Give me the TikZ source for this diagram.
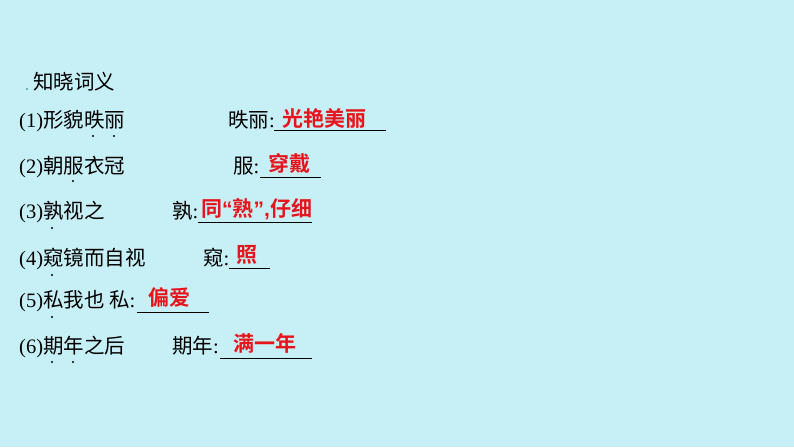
\documentclass[tikz,border=0pt]{standalone}
\usepackage{fontspec}
\setmainfont{Liberation Serif}
\newfontfamily\cjk{Noto Sans CJK SC}
\newfontfamily\cjkb{Noto Sans CJK SC Bold}
\newfontfamily\latb{Liberation Sans Bold}
\definecolor{bgc}{HTML}{C6EFF6}
\definecolor{ans}{HTML}{E8141C}
\begin{document}
\begin{tikzpicture}[x=1pt,y=-1pt,
  txt/.style={anchor=base west,inner sep=0pt,font=\fontsize{20.5}{20.5}\selectfont},
  ansr/.style={anchor=base west,inner sep=0pt,text=ans,font=\fontsize{21}{21}\selectfont\cjkb},
  uline/.style={line width=0.6pt},
  emdot/.style={circle,fill=black,inner sep=0pt,minimum size=2.4pt}]
\fill[bgc] (0,0) rectangle (794,447);
\useasboundingbox (0,0) rectangle (794,447);
\node[emdot,minimum size=1.8pt,fill=teal] (d0) at (27,89) {};
\node[txt] (t0) at (33,89) {\cjk 知晓词义};
% row1
\node[txt] (r1) at (19,127) {(1)\cjk 形貌昳丽};
\node[txt] (l1) at (228,127) {{\cjk 昳丽}:};
\coordinate (u1a) at (274,130); \coordinate (u1b) at (386,130);
\draw[uline] (u1a) -- (u1b);
\node[ansr] (a1) at (282,126) {光艳美丽};
\node[emdot] (d1a) at (93,136) {}; \node[emdot] (d1b) at (114,136) {};
% row2
\node[txt] (r2) at (19,173) {(2)\cjk 朝服衣冠};
\node[txt] (l2) at (233,173) {{\cjk 服}:};
\coordinate (u2a) at (260,177); \coordinate (u2b) at (321,177);
\draw[uline] (u2a) -- (u2b);
\node[ansr] (a2) at (268,171) {穿戴};
\node[emdot] (d2) at (73,181) {};
% row3
\node[txt] (r3) at (19,218) {(3)\cjk 孰视之};
\node[txt] (l3) at (172,218) {{\cjk 孰}:};
\coordinate (u3a) at (198,222); \coordinate (u3b) at (312,222);
\draw[uline] (u3a) -- (u3b);
\node[ansr] (a3) at (201,216) {同{\latb “}熟{\latb ”,}仔细};
\node[emdot] (d3) at (52,228) {};
% row4
\node[txt] (r4) at (19,265) {(4)\cjk 窥镜而自视};
\node[txt] (l4) at (203,265) {{\cjk 窥}:};
\coordinate (u4a) at (229,268); \coordinate (u4b) at (270,268);
\draw[uline] (u4a) -- (u4b);
\node[ansr] (a4) at (236,262) {照};
\node[emdot] (d4) at (52,275) {};
% row5
\node[txt] (r5) at (19,307) {(5){\cjk 私我也 私}:};
\coordinate (u5a) at (137,312); \coordinate (u5b) at (209,312);
\draw[uline] (u5a) -- (u5b);
\node[ansr] (a5) at (148,305) {偏爱};
\node[emdot] (d5) at (52,317) {};
% row6
\node[txt] (r6) at (19,353) {(6)\cjk 期年之后};
\node[txt] (l6) at (172,353) {{\cjk 期年}:};
\coordinate (u6a) at (220,358); \coordinate (u6b) at (312,358);
\draw[uline] (u6a) -- (u6b);
\node[ansr] (a6) at (233,351) {满一年};
\node[emdot] (d6a) at (52,362) {}; \node[emdot] (d6b) at (73,362) {};
\end{tikzpicture}
\end{document}
